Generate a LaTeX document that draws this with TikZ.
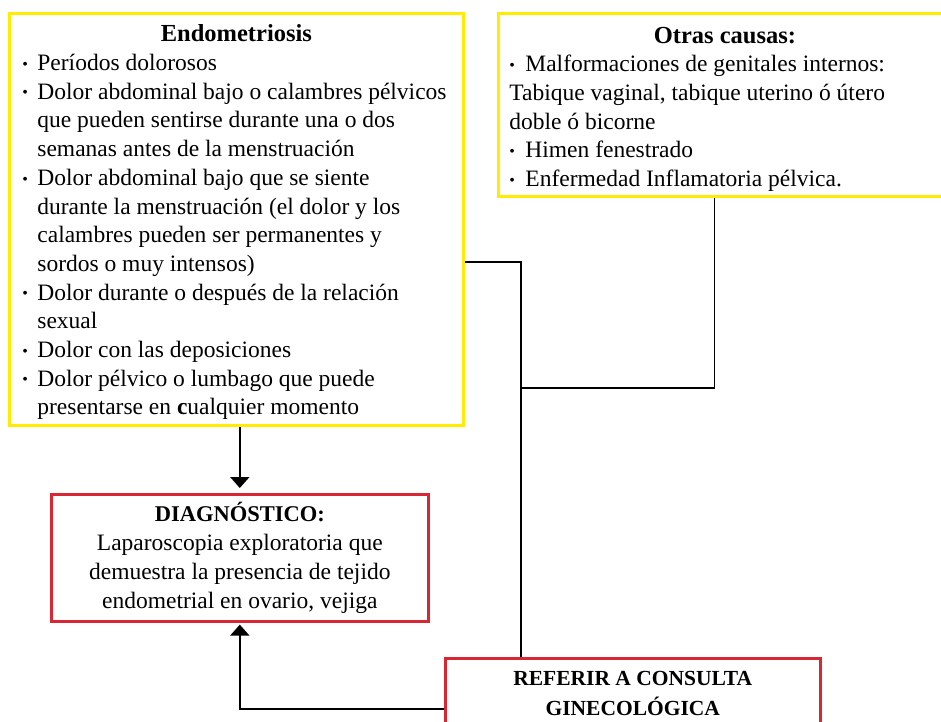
\documentclass[tikz,border=0pt]{standalone}
\usepackage{fontspec}
\setmainfont{Liberation Serif}
\usetikzlibrary{arrows.meta,calc}
\definecolor{boxyellow}{RGB}{255,236,0}
\definecolor{boxred}{RGB}{216,38,50}
\newcommand{\mybul}{\makebox[15pt][l]{\raisebox{0.12ex}{\scalebox{0.68}{\textbullet}}}}
\newcommand{\mybulb}{\makebox[16pt][l]{\raisebox{0.12ex}{\scalebox{0.68}{\textbullet}}}}
\newcommand{\myind}{\hspace*{15pt}}
\tikzset{
  ybox/.style={draw=boxyellow, line width=2.8pt, anchor=north west, align=flush left,
    font=\fontsize{23.5}{28.7}\selectfont},
  rbox/.style={draw=boxred, line width=2.6pt, anchor=north west, align=flush center,
    font=\fontsize{23.5}{29}\selectfont},
  conn/.style={draw=black, line width=1.8pt},
  arr/.style={conn, -{Triangle[width=19pt,length=11pt]}},
}
\begin{document}
\begin{tikzpicture}[x=1pt,y=-1pt]
\useasboundingbox (0,0) rectangle (941,721);
\node[ybox, text width=428pt, inner xsep=13pt, inner ysep=1pt, minimum height=412pt] (endo) at (8,12) {%
\rule{0pt}{23pt}\makebox[\linewidth]{\fontsize{24.5}{28.7}\selectfont\textbf{Endometriosis}}\\
\mybul Períodos dolorosos\\
\mbox{\mybul Dolor abdominal bajo o calambres pélvicos}\\
\myind que pueden sentirse durante una o dos\\
\myind semanas antes de la menstruación\\
\mybul Dolor abdominal bajo que se siente\\
\myind durante la menstruación (el dolor y los\\
\myind calambres pueden ser permanentes y\\
\myind sordos o muy intensos)\\
\mybul Dolor durante o después de la relación\\
\myind sexual\\
\mybul Dolor con las deposiciones\\
\mybul Dolor pélvico o lumbago que puede\\
\myind presentarse en \textbf{c}ualquier momento};
\node[ybox, text width=431pt, inner xsep=11pt, inner ysep=3pt, minimum height=183pt] (otras) at (497,12) {%
\rule{0pt}{25pt}\makebox[\linewidth]{\fontsize{24.5}{28.7}\selectfont\textbf{Otras causas:}}\\
\mybulb Malformaciones de genitales internos:\\
Tabique vaginal, tabique uterino ó útero\\
doble ó bicorne\\
\mybulb Himen fenestrado\\
\mybulb Enfermedad Inflamatoria pélvica.};
\node[rbox, text width=365pt, inner xsep=6pt, minimum width=377pt, minimum height=127pt] (diag) at (50,493) {%
{\fontsize{22.5}{29}\selectfont\textbf{DIAGNÓSTICO:}}\\
Laparoscopia exploratoria que\\
demuestra la presencia de tejido\\
endometrial en ovario, vejiga};
\node[rbox, text width=360pt, inner xsep=7pt, minimum width=375pt, minimum height=70pt,
  font=\fontsize{21.5}{30}\selectfont\bfseries] (ref) at (444,657) {%
REFERIR A CONSULTA\\
GINECOLÓGICA};
\coordinate (mj) at (521,388);
\draw[conn] ($(endo.north east)+(0,250)$) -| ($(ref.north west)+(77,0)$);
\draw[conn] ($(otras.south)+(-10.5,0)$) |- (mj);
\draw[arr, shorten >=5pt] (endo.south -| diag.north) -- (diag.north);
\draw[arr, shorten >=2pt] ($(ref.north west)+(0,52)$) -| (diag.south);
\end{tikzpicture}
\end{document}
